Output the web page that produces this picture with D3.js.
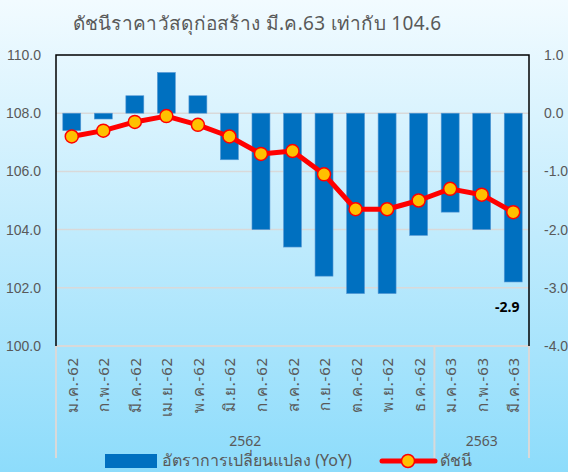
<!DOCTYPE html>
<html>
<head>
<meta charset="utf-8">
<script src="https://cdn.jsdelivr.net/npm/d3@7"></script>
<style>
  body { margin: 0; padding: 0; }
  svg { display: block; font-family: "Noto Sans", "DejaVu Sans", sans-serif; }
</style>
</head>
<body>
<div id="chart"></div>
<script>
// Months (Thai abbreviations), Jan 2562 .. Mar 2563
const MONTHS = ['ม.ค.-62', 'ก.พ.-62', 'มี.ค.-62', 'เม.ย.-62', 'พ.ค.-62', 'มิ.ย.-62',
  'ก.ค.-62', 'ส.ค.-62', 'ก.ย.-62', 'ต.ค.-62', 'พ.ย.-62', 'ธ.ค.-62',
  'ม.ค.-63', 'ก.พ.-63', 'มี.ค.-63'];
const YEARS = [{ label: '2562', count: 12 }, { label: '2563', count: 3 }];

// Year-on-year change (right axis)
const YOY = [-0.3, -0.1, 0.3, 0.7, 0.3, -0.8, -2.0, -2.3, -2.8, -3.1, -3.1, -2.1, -1.7, -2.0, -2.9];
// Index (left axis)
const INDEX = [107.2, 107.4, 107.7, 107.9, 107.6, 107.2, 106.6, 106.7, 105.9, 104.7, 104.7, 105.0, 105.4, 105.2, 104.6];

const LEFT_TICKS = [100, 102, 104, 106, 108, 110];
const RIGHT_TICKS = [-4, -3, -2, -1, 0, 1];

const width = 568, height = 472;
const plot = { left: 56, right: 529, top: 55, bottom: 346 };
const grey = '#595959';

// plain hyphen for negatives, like the spreadsheet original
const fmt = d3.formatLocale({ decimal: '.', thousands: ',', grouping: [3], currency: ['', ''], minus: '-' }).format('.1f');

const svg = d3.select('#chart').append('svg')
  .attr('width', width)
  .attr('height', height);

// background gradient
const grad = svg.append('defs').append('linearGradient')
  .attr('id', 'bg').attr('x1', 0).attr('y1', 0).attr('x2', 0).attr('y2', 1);
grad.append('stop').attr('offset', '0%').attr('stop-color', '#f2fbff');
grad.append('stop').attr('offset', '50%').attr('stop-color', '#c0ebfd');
grad.append('stop').attr('offset', '100%').attr('stop-color', '#8ddcfb');
svg.append('rect').attr('width', width).attr('height', height).attr('fill', 'url(#bg)');

// scales
const x = d3.scaleBand()
  .domain(MONTHS)
  .range([plot.left, plot.right])
  .paddingInner(0.43)
  .paddingOuter(0.215);
const xCenter = (m) => x(m) + x.bandwidth() / 2;

const yLeft = d3.scaleLinear().domain([100, 110]).range([plot.bottom, plot.top]);
const yRight = d3.scaleLinear().domain([-4, 1]).range([plot.bottom, plot.top]);

// gridlines
svg.append('g')
  .selectAll('line')
  .data(LEFT_TICKS.slice(1, -1))
  .join('line')
    .attr('x1', plot.left).attr('x2', plot.right)
    .attr('y1', (d) => yLeft(d)).attr('y2', (d) => yLeft(d))
    .attr('stroke', '#d9d9d9').attr('stroke-width', 1.5);

// left axis
const leftAxis = svg.append('g')
  .attr('transform', `translate(${plot.left},0)`)
  .call(d3.axisLeft(yLeft).tickValues(LEFT_TICKS).tickFormat(fmt).tickSize(0).tickPadding(15));
leftAxis.select('.domain').remove();
leftAxis.selectAll('text').attr('fill', grey).style('font-size', '14px');

// right axis
const rightAxis = svg.append('g')
  .attr('transform', `translate(${plot.right},0)`)
  .call(d3.axisRight(yRight).tickValues(RIGHT_TICKS).tickFormat(fmt).tickSize(0).tickPadding(15));
rightAxis.select('.domain').remove();
rightAxis.selectAll('text').attr('fill', grey).style('font-size', '14px');

// bars
svg.append('g')
  .selectAll('rect')
  .data(YOY)
  .join('rect')
    .attr('x', (d, i) => x(MONTHS[i]))
    .attr('width', x.bandwidth())
    .attr('y', (d) => yRight(Math.max(0, d)))
    .attr('height', (d) => Math.abs(yRight(d) - yRight(0)))
    .attr('fill', '#0070c0')
    .attr('stroke', '#5b9bd5').attr('stroke-width', 0.6);

// value label for the latest bar
const last = YOY.length - 1;
svg.append('text')
  .attr('x', xCenter(MONTHS[last]) - 6)
  .attr('y', yRight(YOY[last]) + 30)
  .attr('text-anchor', 'middle')
  .attr('fill', '#000')
  .attr('font-weight', 'bold')
  .style('font-size', '14px')
  .text(fmt(YOY[last]));

// frame
const frame = svg.append('g');
frame.append('line')
  .attr('x1', plot.left).attr('x2', plot.right).attr('y1', plot.bottom).attr('y2', plot.bottom)
  .attr('stroke', '#d9d9d9').attr('stroke-width', 2);
frame.append('path')
  .attr('d', `M${plot.left},${plot.bottom}V${plot.top}H${plot.right}V${plot.bottom}`)
  .attr('fill', 'none').attr('stroke', '#000').attr('stroke-width', 1.5);

// index line
const line = d3.line()
  .x((d, i) => xCenter(MONTHS[i]))
  .y((d) => yLeft(d));
svg.append('path')
  .datum(INDEX)
  .attr('d', line)
  .attr('fill', 'none')
  .attr('stroke', '#ff0000')
  .attr('stroke-width', 5)
  .attr('stroke-linejoin', 'round');
svg.append('g')
  .selectAll('circle')
  .data(INDEX)
  .join('circle')
    .attr('cx', (d, i) => xCenter(MONTHS[i]))
    .attr('cy', (d) => yLeft(d))
    .attr('r', 6.5)
    .attr('fill', '#ffc000')
    .attr('stroke', '#ff0000').attr('stroke-width', 1.5);

// category labels (rotated)
svg.append('g')
  .selectAll('text')
  .data(MONTHS)
  .join('text')
    .attr('transform', (d) => `translate(${xCenter(d) + 6},357) rotate(-90)`)
    .attr('text-anchor', 'end')
    .attr('fill', grey)
    .style('font-size', '15px')
    .style('letter-spacing', '0.8px')
    .text((d) => d);

// year groups
let start = 0;
const dividers = [plot.left];
YEARS.forEach((yr) => {
  const end = start + yr.count;
  const left = dividers[dividers.length - 1];
  const right = end === MONTHS.length
    ? plot.right
    : x(MONTHS[end]) - x.step() * x.paddingInner() / 2;
  dividers.push(right);
  svg.append('text')
    .attr('x', (left + right) / 2)
    .attr('y', 446)
    .attr('text-anchor', 'middle')
    .attr('fill', grey)
    .style('font-size', '14px')
    .text(yr.label);
  start = end;
});
svg.append('g')
  .selectAll('line')
  .data(dividers)
  .join('line')
    .attr('x1', (d) => d).attr('x2', (d) => d)
    .attr('y1', plot.bottom).attr('y2', 458)
    .attr('stroke', '#d9d9d9').attr('stroke-width', 2);

// title
svg.append('text')
  .attr('x', 257)
  .attr('y', 30)
  .attr('text-anchor', 'middle')
  .attr('fill', grey)
  .style('font-size', '19px')
  .style('letter-spacing', '0.3px')
  .text('ดัชนีราคาวัสดุก่อสร้าง มี.ค.63  เท่ากับ 104.6');

// legend
const legend = svg.append('g');
legend.append('rect')
  .attr('x', 105).attr('y', 454).attr('width', 52).attr('height', 14)
  .attr('fill', '#0070c0');
legend.append('text')
  .attr('x', 162).attr('y', 466)
  .attr('fill', grey)
  .style('font-size', '16px')
  .text('อัตราการเปลี่ยนแปลง (YoY)');
legend.append('line')
  .attr('x1', 382).attr('x2', 435).attr('y1', 461).attr('y2', 461)
  .attr('stroke', '#ff0000').attr('stroke-width', 5).attr('stroke-linecap', 'round');
legend.append('circle')
  .attr('cx', 408).attr('cy', 461).attr('r', 6.5)
  .attr('fill', '#ffc000').attr('stroke', '#ff0000').attr('stroke-width', 1.5);
legend.append('text')
  .attr('x', 440).attr('y', 466)
  .attr('fill', grey)
  .style('font-size', '16px')
  .text('ดัชนี');
</script>
</body>
</html>
